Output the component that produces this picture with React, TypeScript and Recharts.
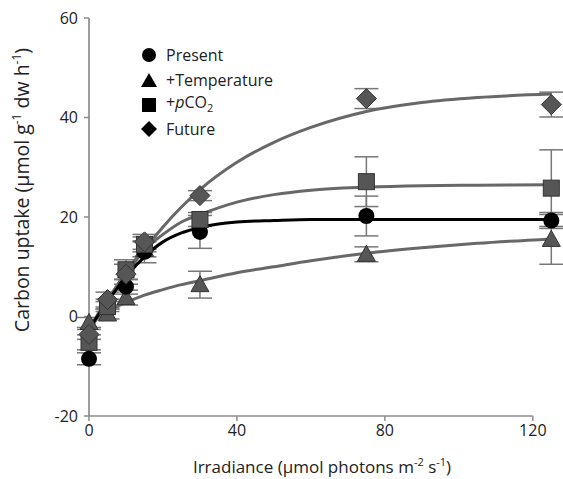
import {
  ComposedChart,
  ErrorBar,
  Line,
  ReferenceLine,
  Scatter,
  XAxis,
  YAxis,
} from 'recharts';

// measured points
const irradiance = [0, 5, 10, 15, 30, 75, 125];
const present = [-8.5, 2.5, 6, 13, 17, 20.2, 19.3];
const presentErr = [1.2, 1, 1.5, 2.2, 3.3, 4, 1.6];
const temperature = [-1.2, 0.5, 3.8, 13.5, 6.4, 12.5, 15.5];
const temperatureErr = [1, 1, 1.5, 1.5, 2.7, 1.5, 5];
const pco2 = [-5.2, 2, 9.4, 14.5, 19.5, 27.1, 25.8];
const pco2Err = [1.5, 1, 2, 1.5, 1.4, 5, 7.7];
const future = [-3.6, 3.4, 8.5, 15, 24.3, 43.8, 42.6];
const futureErr = [1, 1.5, 2, 1.5, 1, 2, 2.5];

// fitted curves
const curveX = [0, 5, 10, 15, 20, 25, 30, 40, 50, 60, 75, 90, 105, 125];
const presentFit = [-2.5, 3, 8, 12, 15, 16.8, 17.9, 19, 19.3, 19.5, 19.5, 19.5, 19.5, 19.5];
const temperatureFit = [-1.5, 1, 2.8, 4.3, 5.4, 6.4, 7.2, 8.8, 10, 11.2, 12.7, 13.8, 14.7, 15.6];
const pco2Fit = [-3, 3, 9, 13.5, 16.5, 19, 20.5, 23, 24.5, 25.4, 26, 26.3, 26.4, 26.5];
const futureFit = [-2.5, 3.5, 8.5, 13.5, 18, 22, 25.5, 31, 35, 38, 41.2, 43, 44, 44.7];

const xTicks = [0, 40, 80, 120];
const yTicks = [-20, 0, 20, 40, 60];

const FONT = '"Open Sans", sans-serif';
const AXIS = '#8c8c8c';
const GREY = '#565656';

const points = (ys: number[], errs: number[]) =>
  irradiance.map((x, i) => ({ x, y: ys[i], err: errs[i] }));
const curve = (ys: number[]) => curveX.map((x, i) => ({ x, y: ys[i] }));

const Nothing = () => <g />;
const Circle = (p: any) => <circle cx={p.cx} cy={p.cy} r={8} fill="#000" />;
const Triangle = (p: any) => (
  <path
    d={`M${p.cx},${p.cy - 9}L${p.cx + 9},${p.cy + 7}L${p.cx - 9},${p.cy + 7}Z`}
    fill={GREY}
    stroke="#333"
  />
);
const Square = (p: any) => (
  <rect x={p.cx - 8} y={p.cy - 8} width={16} height={16} fill={GREY} stroke="#333" />
);
const Diamond = (p: any) => (
  <path
    d={`M${p.cx},${p.cy - 10}L${p.cx + 10},${p.cy}L${p.cx},${p.cy + 10}L${p.cx - 10},${p.cy}Z`}
    fill={GREY}
    stroke="#333"
  />
);

function XTitle({ viewBox }: any) {
  const cx = viewBox.x + viewBox.width / 2;
  return (
    <text x={cx} y={viewBox.y + 57} textAnchor="middle" fontSize={17} fill="#222" fontFamily={FONT}>
      Irradiance (µmol photons m
      <tspan dy={-7} fontSize={11}>-2</tspan>
      <tspan dy={7}> s</tspan>
      <tspan dy={-7} fontSize={11}>-1</tspan>
      <tspan dy={7}>)</tspan>
    </text>
  );
}

function YTitle() {
  return (
    <text
      x={0}
      y={0}
      transform="translate(29, 190) rotate(-90)"
      textAnchor="middle"
      fontSize={19.5}
      fill="#222"
      fontFamily={FONT}
    >
      Carbon uptake (µmol g
      <tspan dy={-8} fontSize={12}>-1</tspan>
      <tspan dy={8}> dw h</tspan>
      <tspan dy={-8} fontSize={12}>-1</tspan>
      <tspan dy={8}>)</tspan>
    </text>
  );
}

const legendItems = [
  { icon: <circle cx={9} cy={9} r={7} fill="#000" />, label: <>Present</> },
  { icon: <path d="M9,2L17,16L1,16Z" fill="#000" />, label: <>+Temperature</> },
  { icon: <rect x={2} y={2} width={14} height={14} fill="#000" />, label: <>+<i>p</i>CO<sub style={{ fontSize: 11 }}>2</sub></> },
  { icon: <path d="M9,1L17,9L9,17L1,9Z" fill="#000" />, label: <>Future</> },
];

const errorSets = [
  points(temperature, temperatureErr),
  points(present, presentErr),
  points(pco2, pco2Err),
  points(future, futureErr),
];

export default function App() {
  return (
    <div style={{ position: 'fixed', left: 0, top: 0, width: 563, height: 479, background: '#fff' }}>
      <ComposedChart width={563} height={479} margin={{ top: 18, right: 8, left: 0, bottom: 0 }}>
        <XAxis
          dataKey="x"
          type="number"
          domain={[0, 126]}
          ticks={xTicks}
          axisLine={false}
          tickLine={{ stroke: AXIS, strokeWidth: 1.5 }}
          tickSize={5}
          tickMargin={4}
          height={63}
          tick={{ fontSize: 16, fill: '#222', fontFamily: FONT }}
          label={<XTitle />}
        />
        <YAxis
          type="number"
          domain={[-20, 60]}
          ticks={yTicks}
          width={89}
          axisLine={{ stroke: AXIS, strokeWidth: 1.7 }}
          tickLine={{ stroke: AXIS, strokeWidth: 1.5 }}
          tickSize={5}
          tickMargin={6}
          tick={{ fontSize: 16, fill: '#222', fontFamily: FONT }}
          label={<YTitle />}
        />
        <ReferenceLine
          segment={[
            { x: 0, y: -20 },
            { x: 120, y: -20 },
          ]}
          stroke={AXIS}
          strokeWidth={1.7}
          ifOverflow="visible"
        />
        {/* error bars first so the markers sit on top of them */}
        {errorSets.map((d, i) => (
          <Scatter key={`err-${i}`} data={d} dataKey="y" shape={Nothing} isAnimationActive={false}>
            <ErrorBar dataKey="err" direction="y" width={12} stroke="#777" strokeWidth={1.5} />
          </Scatter>
        ))}
        <Line data={curve(temperatureFit)} dataKey="y" type="monotone" stroke="#686868" strokeWidth={3} dot={false} isAnimationActive={false} />
        <Line data={curve(pco2Fit)} dataKey="y" type="monotone" stroke="#686868" strokeWidth={3} dot={false} isAnimationActive={false} />
        <Line data={curve(futureFit)} dataKey="y" type="monotone" stroke="#686868" strokeWidth={3} dot={false} isAnimationActive={false} />
        <Line data={curve(presentFit)} dataKey="y" type="monotone" stroke="#000" strokeWidth={3} dot={false} isAnimationActive={false} />
        <Scatter data={errorSets[0]} dataKey="y" shape={Triangle} isAnimationActive={false} />
        <Scatter data={errorSets[1]} dataKey="y" shape={Circle} isAnimationActive={false} />
        <Scatter data={errorSets[2]} dataKey="y" shape={Square} isAnimationActive={false} />
        <Scatter data={errorSets[3]} dataKey="y" shape={Diamond} isAnimationActive={false} />
      </ComposedChart>
      <div style={{ position: 'absolute', left: 140, top: 43, fontFamily: FONT, fontSize: 16, color: '#222' }}>
        {legendItems.map((it, i) => (
          <div key={i} style={{ display: 'flex', alignItems: 'center', height: 24.7 }}>
            <svg width={18} height={18} style={{ marginRight: 8 }}>
              {it.icon}
            </svg>
            <span style={{ lineHeight: '18px' }}>{it.label}</span>
          </div>
        ))}
      </div>
    </div>
  );
}
